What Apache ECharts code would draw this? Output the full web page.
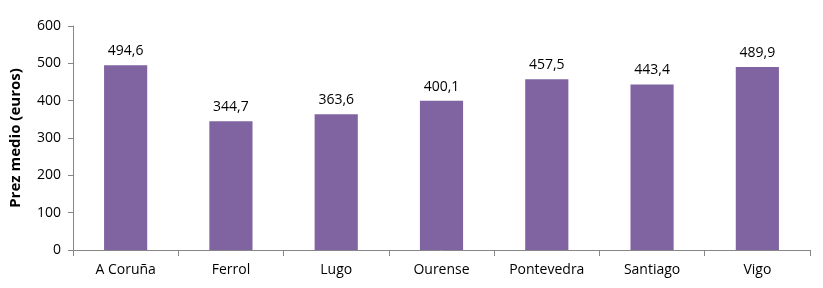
<!DOCTYPE html>
<html><head><meta charset="utf-8">
<script src="https://cdn.jsdelivr.net/npm/echarts@6/dist/echarts.min.js"></script>
<style>html,body{margin:0;padding:0;background:#fff}#c{width:823px;height:288px}</style>
</head><body><div id="c"></div>
<script>
const categories = ["A Coruña","Ferrol","Lugo","Ourense","Pontevedra","Santiago","Vigo"];
const values = [494.6,344.7,363.6,400.1,457.5,443.4,489.9];
const yTicks = [0,100,200,300,400,500,600];
const axisName = "Prez medio (euros)";

const chart = echarts.init(document.getElementById('c'), null, {renderer:'canvas'});
const font = "'Open Sans', 'Liberation Sans', sans-serif";
chart.setOption({
  animation:false,
  grid:{left:69,right:13,top:26,bottom:38,containLabel:false},
  xAxis:{type:'category',data:categories,
    axisLine:{lineStyle:{color:'#868686'}},
    axisTick:{show:true,alignWithLabel:false,length:6,lineStyle:{color:'#868686'}},
    axisLabel:{color:'#000',fontFamily:font,fontSize:14,margin:13}},
  yAxis:{type:'value',min:yTicks[0],max:yTicks[yTicks.length-1],interval:100,
    name:axisName,nameLocation:'middle',nameGap:50,nameRotate:90,
    nameTextStyle:{color:'#000',fontFamily:font,fontSize:15,fontWeight:'bold'},
    axisLine:{show:true,lineStyle:{color:'#868686'}},
    axisTick:{show:true,length:5,lineStyle:{color:'#868686'}},
    splitLine:{show:false},
    axisLabel:{color:'#000',fontFamily:font,fontSize:14,margin:12}},
  series:[{type:'bar',data:values,barWidth:'41%',
    itemStyle:{color:'#8064A2'},
    label:{show:true,position:'top',distance:7,color:'#000',fontFamily:font,fontSize:14,
      formatter:p=>p.value.toFixed(1).replace('.',',')}}]
});
</script></body></html>
